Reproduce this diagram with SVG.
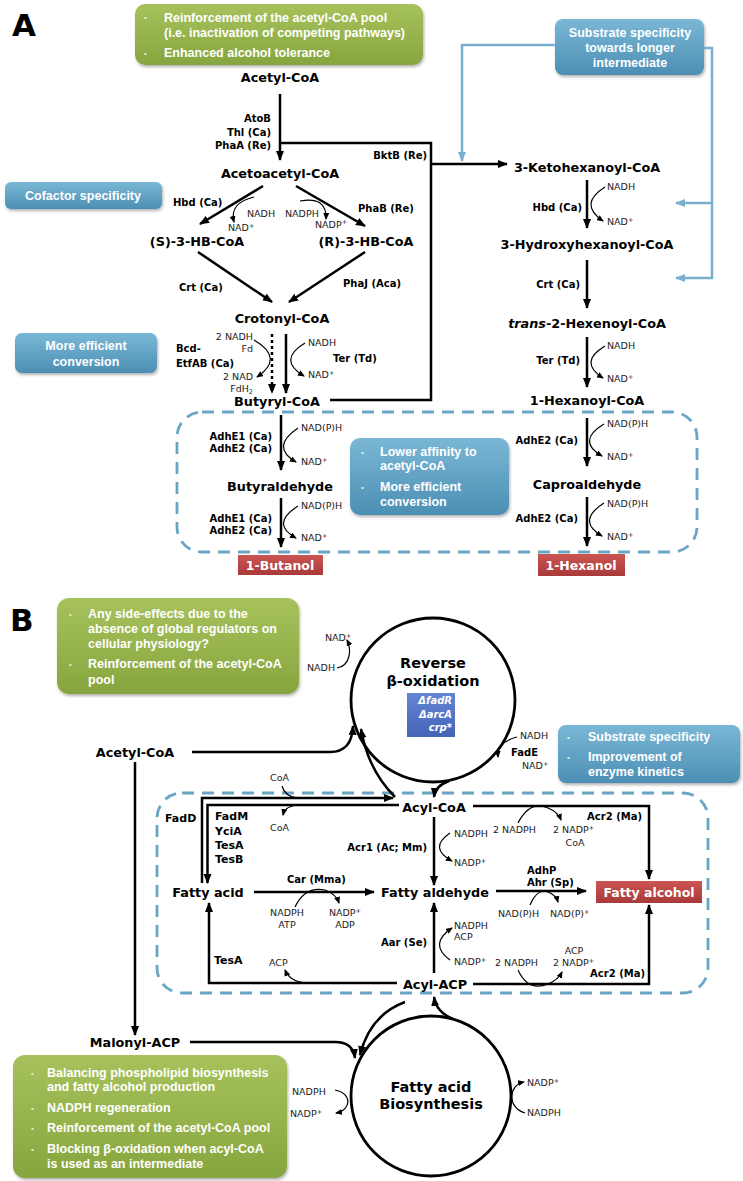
<svg xmlns="http://www.w3.org/2000/svg" width="743" height="1181" viewBox="0 0 743 1181">
<defs>
<style>
.n{font-family:"DejaVu Sans",Verdana,sans-serif;font-weight:bold;font-size:12.8px;fill:#000;text-anchor:middle}
.t{font-family:"DejaVu Sans",Verdana,sans-serif;font-weight:bold;font-size:14.5px;fill:#000;text-anchor:middle}
.e{font-family:"DejaVu Sans",Verdana,sans-serif;font-weight:bold;font-size:10px;fill:#000}
.eb{font-family:"DejaVu Sans",Verdana,sans-serif;font-weight:bold;font-size:11px;fill:#000}
.r{text-anchor:end}
.m{text-anchor:middle}
.c{font-family:"DejaVu Sans",Verdana,sans-serif;font-size:9.5px;fill:#222}
.bx{font-family:"Liberation Sans",Arial,sans-serif;font-weight:bold;font-size:12.5px;fill:#fff}
.bu{font-family:"Liberation Sans",Arial,sans-serif;font-size:8px;fill:#e8eed8}
.rt{font-family:"DejaVu Sans",Verdana,sans-serif;font-weight:bold;font-size:12.5px;fill:#fff;text-anchor:middle}
.ar{fill:none;stroke:#000;stroke-width:2.5;marker-end:url(#ah)}
.ln{fill:none;stroke:#000;stroke-width:2.5}
.cf{fill:none;stroke:#000;stroke-width:1.2;marker-end:url(#as)}
.cl{fill:none;stroke:#000;stroke-width:1.2}
.bl{fill:none;stroke:#7ab0cf;stroke-width:2.5}
.bla{fill:none;stroke:#7ab0cf;stroke-width:2.5;marker-end:url(#ab)}
.ds{fill:none;stroke:#6aa5c4;stroke-width:2.8;stroke-dasharray:12 8}
.ci{fill:none;stroke:#000;stroke-width:2.8}
</style>
<marker id="ah" markerWidth="10" markerHeight="9" refX="9" refY="4.5" orient="auto" markerUnits="userSpaceOnUse"><path d="M0,0.5 L10,4.5 L0,8.5 z" fill="#000"/></marker>
<marker id="as" markerWidth="7" markerHeight="6" refX="6" refY="3" orient="auto" markerUnits="userSpaceOnUse"><path d="M0,0 L7,3 L0,6 z" fill="#000"/></marker>
<marker id="ab" markerWidth="10" markerHeight="9" refX="9" refY="4.5" orient="auto" markerUnits="userSpaceOnUse"><path d="M0,0.5 L10,4.5 L0,8.5 z" fill="#7ab0cf"/></marker>
<linearGradient id="gG" x1="0" y1="0" x2="0" y2="1"><stop offset="0" stop-color="#a7c25c"/><stop offset="1" stop-color="#87a53e"/></linearGradient>
<linearGradient id="gB" x1="0" y1="0" x2="0" y2="1"><stop offset="0" stop-color="#7ab7d6"/><stop offset="1" stop-color="#4c8fb4"/></linearGradient>
<linearGradient id="gR" x1="0" y1="0" x2="0" y2="1"><stop offset="0" stop-color="#cc5552"/><stop offset="1" stop-color="#a83a3a"/></linearGradient>
<linearGradient id="gP" x1="0" y1="0" x2="0" y2="1"><stop offset="0" stop-color="#6585d4"/><stop offset="1" stop-color="#4464b8"/></linearGradient>
<filter id="sh" x="-10%" y="-10%" width="120%" height="130%"><feDropShadow dx="1" dy="2" stdDeviation="1.5" flood-color="#000" flood-opacity="0.3"/></filter>
</defs>
<rect width="743" height="1181" fill="#fff"/>

<!-- Panel A -->
<text x="12" y="36" font-family="DejaVu Sans,sans-serif" font-weight="bold" font-size="31">A</text>

<g id="noteA1">
<rect x="135" y="4" width="288" height="61" rx="10" fill="url(#gG)" filter="url(#sh)"/>
<text class="bu" x="144" y="20">•</text><text class="bx" x="164" y="21.5">Reinforcement of the acetyl-CoA pool</text>
<text class="bx" x="164" y="36.5">(i.e. inactivation of competing pathways)</text>
<text class="bu" x="144" y="56">•</text><text class="bx" x="164" y="57">Enhanced alcohol tolerance</text>
</g>

<g id="noteCofactor">
<rect x="5" y="182" width="157" height="27" rx="6" fill="url(#gB)" filter="url(#sh)"/>
<text class="bx m" x="83" y="200">Cofactor specificity</text>
</g>
<g id="noteEfficient">
<rect x="15" y="333" width="142" height="40" rx="7" fill="url(#gB)" filter="url(#sh)"/>
<text class="bx m" x="86" y="350">More efficient</text>
<text class="bx m" x="86" y="366">conversion</text>
</g>
<g id="noteSubstrateA">
<rect x="555" y="19" width="149" height="56" rx="8" fill="url(#gB)" filter="url(#sh)"/>
<text class="bx m" x="630" y="36.5">Substrate specificity</text>
<text class="bx m" x="630" y="51.5">towards longer</text>
<text class="bx m" x="630" y="66.5">intermediate</text>
</g>
<g id="noteAffinity">
<rect x="350" y="438" width="159" height="77" rx="10" fill="url(#gB)" filter="url(#sh)"/>
<text class="bu" x="361" y="455">•</text><text class="bx" x="380" y="456">Lower affinity to</text>
<text class="bx" x="380" y="470">acetyl-CoA</text>
<text class="bu" x="361" y="490">•</text><text class="bx" x="380" y="491">More efficient</text>
<text class="bx" x="380" y="506">conversion</text>
</g>

<g id="boxA"><rect class="ds" x="177" y="412" width="520" height="140" rx="25"/></g>

<g id="n_acetylA"><text class="n" x="280" y="82">Acetyl-CoA</text></g>
<g id="n_acetoacetyl"><text class="n" x="280" y="178">Acetoacetyl-CoA</text></g>
<g id="n_S3HB"><text class="n" x="197" y="246">(S)-3-HB-CoA</text></g>
<g id="n_R3HB"><text class="n" x="366" y="246">(R)-3-HB-CoA</text></g>
<g id="n_crotonyl"><text class="n" x="282" y="323">Crotonyl-CoA</text></g>
<g id="n_butyryl"><text class="n" x="277" y="406">Butyryl-CoA</text></g>
<g id="n_butyraldehyde"><text class="n" x="280" y="491">Butyraldehyde</text></g>
<g id="n_butanol"><rect x="238" y="555" width="85" height="20" fill="url(#gR)"/><text class="rt" x="280" y="569.5">1-Butanol</text></g>
<g id="n_ketohex"><text class="n" x="587" y="172">3-Ketohexanoyl-CoA</text></g>
<g id="n_hydroxyhex"><text class="n" x="587" y="249">3-Hydroxyhexanoyl-CoA</text></g>
<g id="n_hexenoyl"><text class="n" x="587" y="328"><tspan font-style="italic">trans</tspan>-2-Hexenoyl-CoA</text></g>
<g id="n_hexanoyl"><text class="n" x="587" y="405">1-Hexanoyl-CoA</text></g>
<g id="n_caproald"><text class="n" x="587" y="489">Caproaldehyde</text></g>
<g id="n_hexanol"><rect x="538" y="554" width="87" height="22" fill="url(#gR)"/><text class="rt" x="581" y="569.5">1-Hexanol</text></g>

<g id="labelsA">
<text class="e r" x="271" y="122">AtoB</text>
<text class="e r" x="271" y="135.5">Thl (Ca)</text>
<text class="e r" x="271" y="149">PhaA (Re)</text>
<text class="e r" x="427" y="159">BktB (Re)</text>
<text class="e" x="173" y="206">Hbd (Ca)</text>
<text class="e" x="358" y="212">PhaB (Re)</text>
<text class="e" x="179" y="291">Crt (Ca)</text>
<text class="e" x="343" y="287">PhaJ (Aca)</text>
<text class="e" x="176" y="352">Bcd-</text>
<text class="e" x="176" y="367">EtfAB (Ca)</text>
<text class="e" x="333" y="362">Ter (Td)</text>
<text class="e r" x="272" y="440">AdhE1 (Ca)</text>
<text class="e r" x="272" y="452">AdhE2 (Ca)</text>
<text class="e r" x="272" y="522">AdhE1 (Ca)</text>
<text class="e r" x="272" y="534">AdhE2 (Ca)</text>
<text class="e r" x="582" y="211">Hbd (Ca)</text>
<text class="e r" x="580" y="288">Crt (Ca)</text>
<text class="e r" x="580" y="364">Ter (Td)</text>
<text class="e r" x="578" y="444">AdhE2 (Ca)</text>
<text class="e r" x="578" y="522">AdhE2 (Ca)</text>
<text class="c" x="247" y="216.5">NADH</text>
<text class="c" x="228" y="231">NAD<tspan font-size="6.5" dy="-3.5">+</tspan></text>
<text class="c" x="285" y="216.5">NADPH</text>
<text class="c" x="315" y="227.5">NADP<tspan font-size="6.5" dy="-3.5">+</tspan></text>
<text class="c r" x="253" y="340">2 NADH</text>
<text class="c r" x="253" y="352">Fd</text>
<text class="c r" x="253" y="380">2 NAD</text>
<text class="c r" x="253" y="392">FdH<tspan font-size="6.5" dy="2">2</tspan></text>
<text class="c" x="308" y="346">NADH</text>
<text class="c" x="308" y="378">NAD<tspan font-size="6.5" dy="-3.5">+</tspan></text>
<text class="c" x="301" y="431">NAD(P)H</text>
<text class="c" x="301" y="465">NAD<tspan font-size="6.5" dy="-3.5">+</tspan></text>
<text class="c" x="301" y="509">NAD(P)H</text>
<text class="c" x="301" y="541">NAD<tspan font-size="6.5" dy="-3.5">+</tspan></text>
<text class="c" x="607" y="190">NADH</text>
<text class="c" x="607" y="225">NAD<tspan font-size="6.5" dy="-3.5">+</tspan></text>
<text class="c" x="607" y="349">NADH</text>
<text class="c" x="607" y="382">NAD<tspan font-size="6.5" dy="-3.5">+</tspan></text>
<text class="c" x="607" y="427">NAD(P)H</text>
<text class="c" x="607" y="460">NAD<tspan font-size="6.5" dy="-3.5">+</tspan></text>
<text class="c" x="607" y="507">NAD(P)H</text>
<text class="c" x="607" y="540">NAD<tspan font-size="6.5" dy="-3.5">+</tspan></text>
</g>

<!-- Panel B -->
<text x="10" y="631" font-family="DejaVu Sans,sans-serif" font-weight="bold" font-size="31">B</text>

<g id="noteB1">
<rect x="57" y="598" width="242" height="96" rx="12" fill="url(#gG)" filter="url(#sh)"/>
<text class="bu" x="69" y="617">•</text><text class="bx" x="88" y="618">Any side-effects due to the</text>
<text class="bx" x="88" y="633">absence of global regulators on</text>
<text class="bx" x="88" y="648">cellular physiology?</text>
<text class="bu" x="69" y="667">•</text><text class="bx" x="88" y="668">Reinforcement of the acetyl-CoA</text>
<text class="bx" x="88" y="684">pool</text>
</g>
<g id="noteSubstrateB">
<rect x="558" y="725" width="182" height="58" rx="8" fill="url(#gB)" filter="url(#sh)"/>
<text class="bu" x="567" y="740">•</text><text class="bx" x="588" y="741">Substrate specificity</text>
<text class="bu" x="567" y="760">•</text><text class="bx" x="588" y="761">Improvement of</text>
<text class="bx" x="588" y="776">enzyme kinetics</text>
</g>
<g id="noteB2">
<rect x="13" y="1055" width="274" height="123" rx="12" fill="url(#gG)" filter="url(#sh)"/>
<text class="bu" x="31" y="1076">•</text><text class="bx" x="47" y="1077">Balancing phospholipid biosynthesis</text>
<text class="bx" x="47" y="1091">and fatty alcohol production</text>
<text class="bu" x="31" y="1111">•</text><text class="bx" x="47" y="1112">NADPH regeneration</text>
<text class="bu" x="31" y="1131">•</text><text class="bx" x="47" y="1132">Reinforcement of the acetyl-CoA pool</text>
<text class="bu" x="31" y="1152">•</text><text class="bx" x="47" y="1153">Blocking β-oxidation when acyl-CoA</text>
<text class="bx" x="47" y="1168">is used as an intermediate</text>
</g>

<g id="boxB"><rect class="ds" x="157" y="793" width="551" height="200" rx="25"/></g>

<g id="n_revbeta">
<circle class="ci" cx="433" cy="700" r="82"/>
<text class="t" x="433" y="668">Reverse</text>
<text class="t" x="433" y="686">β-oxidation</text>
<rect x="407" y="693" width="48" height="44" fill="url(#gP)"/>
<text class="e r" x="452" y="704" style="fill:#fff;font-style:italic">ΔfadR</text>
<text class="e r" x="452" y="718" style="fill:#fff;font-style:italic">ΔarcA</text>
<text class="e r" x="452" y="731" style="fill:#fff;font-style:italic">crp*</text>
</g>
<g id="n_fab">
<circle class="ci" cx="431" cy="1096" r="80"/>
<text class="t" x="431" y="1092">Fatty acid</text>
<text class="t" x="431" y="1109">Biosynthesis</text>
</g>
<g id="n_acetylB"><text class="n" x="135" y="757">Acetyl-CoA</text></g>
<g id="n_malonyl"><text class="n" x="135" y="1047">Malonyl-ACP</text></g>
<g id="n_acylcoa"><text class="n" x="434" y="812">Acyl-CoA</text></g>
<g id="n_fattyacid"><text class="n" x="208" y="897">Fatty acid</text></g>
<g id="n_fattyald"><text class="n" x="435" y="897">Fatty aldehyde</text></g>
<g id="n_acylacp"><text class="n" x="435" y="989">Acyl-ACP</text></g>
<g id="n_fattyalc"><rect x="596" y="881" width="106" height="22" fill="url(#gR)"/><text class="rt" x="649" y="896.5">Fatty alcohol</text></g>

<g id="labelsB">
<text class="c" x="325" y="641">NAD<tspan font-size="6.5" dy="-3.5">+</tspan></text>
<text class="c" x="307" y="671">NADH</text>
<text class="c" x="520" y="739">NADH</text>
<text class="e r" x="538" y="756">FadE</text>
<text class="c" x="522" y="769">NAD<tspan font-size="6.5" dy="-3.5">+</tspan></text>
<text class="c" x="270" y="781">CoA</text>
<text class="c" x="270" y="831">CoA</text>
<text class="eb" x="165" y="822">FadD</text>
<text class="eb" x="215" y="820">FadM</text>
<text class="eb" x="215" y="835">YciA</text>
<text class="eb" x="215" y="849">TesA</text>
<text class="eb" x="215" y="863">TesB</text>
<text class="e" x="287" y="883">Car (Mma)</text>
<text class="c m" x="287" y="916">NADPH</text>
<text class="c m" x="287" y="928">ATP</text>
<text class="c m" x="345" y="916">NADP<tspan font-size="6.5" dy="-3.5">+</tspan></text>
<text class="c m" x="345" y="928">ADP</text>
<text class="eb" x="214" y="964">TesA</text>
<text class="c" x="269" y="966">ACP</text>
<text class="e r" x="427" y="851">Acr1 (Ac; Mm)</text>
<text class="c" x="454" y="837">NADPH</text>
<text class="c" x="454" y="866">NADP<tspan font-size="6.5" dy="-3.5">+</tspan></text>
<text class="e r" x="427" y="946">Aar (Se)</text>
<text class="c" x="454" y="929">NADPH</text>
<text class="c" x="454" y="940">ACP</text>
<text class="c" x="454" y="965">NADP<tspan font-size="6.5" dy="-3.5">+</tspan></text>
<text class="e r" x="642" y="820">Acr2 (Ma)</text>
<text class="c" x="493" y="833">2 NADPH</text>
<text class="c" x="553" y="833">2 NADP<tspan font-size="6.5" dy="-3.5">+</tspan></text>
<text class="c m" x="575" y="846">CoA</text>
<text class="e" x="527" y="874">AdhP</text>
<text class="e" x="527" y="886">Ahr (Sp)</text>
<text class="c" x="498" y="917">NAD(P)H</text>
<text class="c" x="550" y="917">NAD(P)<tspan font-size="6.5" dy="-3.5">+</tspan></text>
<text class="e r" x="645" y="977">Acr2 (Ma)</text>
<text class="c" x="495" y="966">2 NADPH</text>
<text class="c m" x="574" y="954">ACP</text>
<text class="c" x="553" y="966">2 NADP<tspan font-size="6.5" dy="-3.5">+</tspan></text>
<text class="c" x="527" y="1086">NADP<tspan font-size="6.5" dy="-3.5">+</tspan></text>
<text class="c" x="527" y="1116">NADPH</text>
<text class="c" x="292" y="1095">NADPH</text>
<text class="c" x="290" y="1117">NADP<tspan font-size="6.5" dy="-3.5">+</tspan></text>
</g>

<g id="connectors">
<!-- A -->
<path class="ar" d="M280,94 V160"/>
<path class="ln" d="M280,143 H431 V400 H330"/>
<path class="ar" d="M431,164 H507"/>
<path class="ar" d="M263,186 L200,224"/>
<path class="ar" d="M296,186 L365,226"/>
<path class="cf" d="M254,197 Q229,203 234,222"/>
<path class="cf" d="M300,201 Q327,196 326,219"/>
<path class="ar" d="M198,252 L272,302"/>
<path class="ar" d="M365,252 L289,302"/>
<path class="ar" d="M272,334 V393" stroke-dasharray="3 3"/>
<path class="ar" d="M286,334 V393"/>
<path class="cf" d="M254,340 Q285,358 257,377"/>
<path class="cf" d="M305,343 Q277,360 304,376"/>
<path class="ar" d="M587,180 V228"/>
<path class="cf" d="M605,187 Q578,204 603,221"/>
<path class="ar" d="M587,260 V308"/>
<path class="ar" d="M587,337 V387"/>
<path class="cf" d="M605,346 Q578,362 603,378"/>
<path class="ar" d="M281,415 V470"/>
<path class="cf" d="M298,428 Q270,447 296,462"/>
<path class="ar" d="M281,498 V547"/>
<path class="cf" d="M298,506 Q270,524 296,538"/>
<path class="ar" d="M587,418 V466"/>
<path class="cf" d="M604,424 Q576,441 602,456"/>
<path class="ar" d="M587,497 V546"/>
<path class="cf" d="M604,503 Q576,521 602,536"/>
<path class="bla" d="M555,45 H462 V161"/>
<path class="bla" d="M704,48 H712 V278 H676"/>
<path class="bla" d="M712,203 H676"/>
<!-- B -->
<path class="cf" d="M337,668 C350,666 352,650 347,640"/>
<path class="cf" d="M517,737 Q497,742 498,757"/>
<path class="ar" d="M192,752 H330 Q352,752 353,726"/>
<path class="ar" d="M395,797 Q368,770 361,729"/>
<path class="ar" d="M449,781 Q435,786 434,797"/>
<path class="ar" d="M135,762 V1035"/>
<path class="ar" d="M190,1042 H335 Q353,1042 355,1058"/>
<path class="ar" d="M405,1002 Q370,1015 360,1055"/>
<path class="ar" d="M453,1019 Q436,1012 434,997"/>
<path class="cf" d="M335,1090 C352,1093 352,1110 336,1113"/>
<path class="cf" d="M525,1113 C507,1108 508,1085 524,1082"/>
<path class="ar" d="M202,883 V798 H393"/>
<path class="ar" d="M399,805 H207.5 V883"/>
<path class="cl" d="M282,786 Q285,797 298,798"/>
<path class="cf" d="M298,805 Q285,806 283,815"/>
<path class="ar" d="M254,892 H374"/>
<path class="cf" d="M295,907 Q305,886 325,890 Q336,894 339,903"/>
<path class="ar" d="M397,983 H209 V903"/>
<path class="cf" d="M307,983 Q290,982 285,970"/>
<path class="ar" d="M434,817 V885"/>
<path class="cf" d="M450,833 Q428,848 452,861"/>
<path class="ar" d="M434,973 V903"/>
<path class="cf" d="M450,960 Q428,944 452,928"/>
<path class="ar" d="M473,806 H649 V879"/>
<path class="cf" d="M518,823 Q530,800 548,808 Q558,812 561,820"/>
<path class="ar" d="M496,891 H586"/>
<path class="cf" d="M530,905 Q537,888 548,892 Q556,895 558,902"/>
<path class="ar" d="M473,984 H649 V905"/>
<path class="cf" d="M518,970 Q528,992 548,984 Q558,980 562,972"/>
</g>
</svg>
